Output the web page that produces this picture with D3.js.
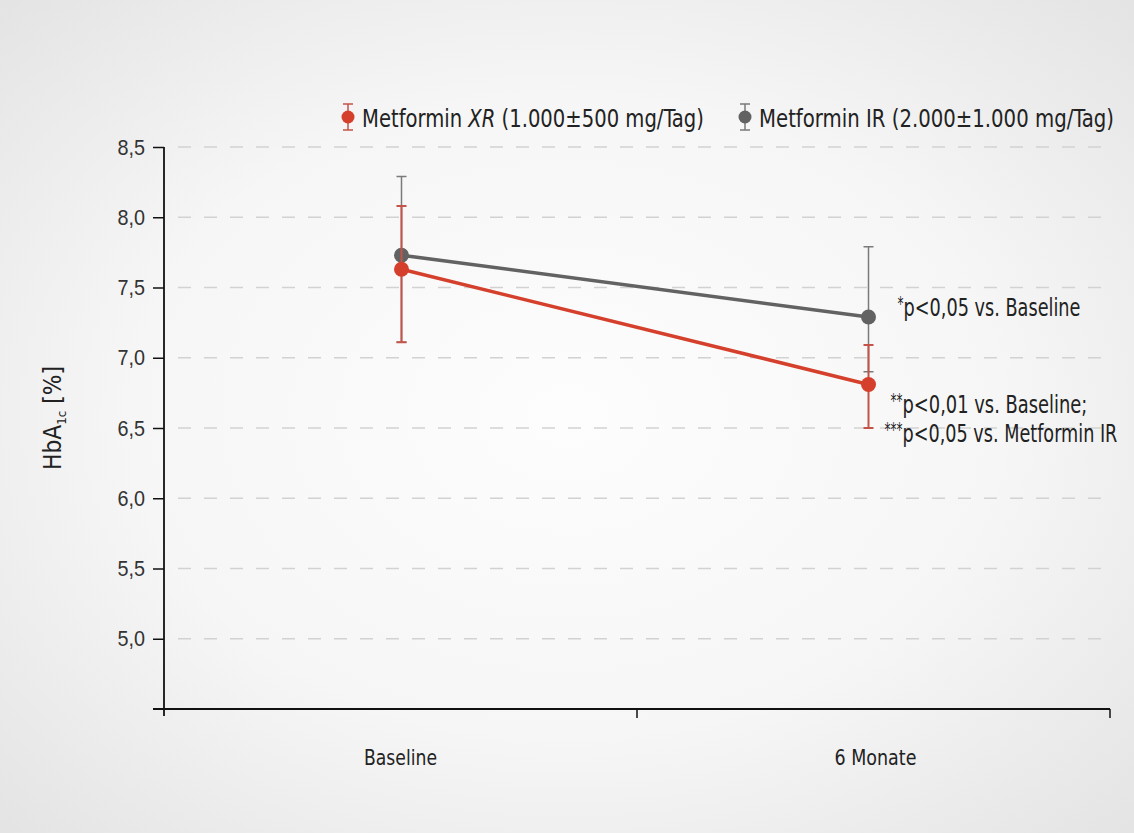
<!DOCTYPE html>
<html>
<head>
<meta charset="utf-8">
<script src="https://cdn.jsdelivr.net/npm/d3@7"></script>
<style>
  body { margin: 0; background: #fff; }
  svg { display: block; }
</style>
</head>
<body>
<div id="chart"></div>
<script>
var categories = ["Baseline", "6 Monate"];

// Metformin XR (1.000±500 mg/Tag)
var xrMean = [7.63, 6.81];
var xrLow  = [7.11, 6.50];
var xrHigh = [8.08, 7.09];

// Metformin IR (2.000±1.000 mg/Tag)
var irMean = [7.73, 7.29];
var irLow  = [7.11, 6.90];
var irHigh = [8.29, 7.79];

var yTicks = [5.0, 5.5, 6.0, 6.5, 7.0, 7.5, 8.0, 8.5];

var width = 1134, height = 833;
var condensed = "'Liberation Sans Narrow', 'DejaVu Sans Condensed', 'Roboto Condensed', sans-serif";
var regular = "'Liberation Sans', Arial, sans-serif";
var red = "#d5402c", redBar = "#c4544a";
var gray = "#626262", grayBar = "#7a7a7a";

var svg = d3.select("#chart").append("svg")
    .attr("width", width)
    .attr("height", height);

// squeeze a text group horizontally so it spans w pixels (the narrow font of the original is not installed)
function fitWidth(g, x0, y0, w, rotate) {
    var bw = g.node().getBBox().width;
    var k = w / bw;
    g.attr("transform", "translate(" + x0 + "," + y0 + ")" + (rotate ? " rotate(-90)" : "") + " scale(" + k + ",1)");
}

// background
var defs = svg.append("defs");
var grad = defs.append("radialGradient")
    .attr("id", "bg")
    .attr("cx", "50%").attr("cy", "50%").attr("r", "70%");
grad.append("stop").attr("offset", "0%").attr("stop-color", "#fdfdfd");
grad.append("stop").attr("offset", "55%").attr("stop-color", "#f6f6f6");
grad.append("stop").attr("offset", "100%").attr("stop-color", "#e4e4e4");
svg.append("rect")
    .attr("width", width).attr("height", height)
    .attr("fill", "url(#bg)");

//
// Scales
//
var x = d3.scaleBand().domain(categories).range([164, 1110]).padding(0);
var xp = d3.scalePoint().domain(categories).range([168, 1102]).padding(0.5);
var y = d3.scaleLinear().domain([4.5, 8.5]).range([709, 147]);

// gridlines
svg.append("g")
    .selectAll("line")
    .data(yTicks)
    .join("line")
    .attr("x1", 178).attr("x2", 1112)
    .attr("y1", function(d) { return y(d); })
    .attr("y2", function(d) { return y(d); })
    .attr("stroke", "#d2d2d2")
    .attr("stroke-width", 1.5)
    .attr("stroke-dasharray", "13,13");

// y axis
var yAxis = svg.append("g")
    .attr("transform", "translate(164,0)")
    .call(d3.axisLeft(y)
        .tickValues(yTicks)
        .tickSize(11)
        .tickPadding(7)
        .tickFormat(function(d) { return d3.format(".1f")(d).replace(".", ","); }));
yAxis.select(".domain")
    .attr("d", "M0," + y(8.5) + "V716")
    .attr("stroke", "#111").attr("stroke-width", 1.8);
yAxis.selectAll(".tick line").attr("stroke", "#111").attr("stroke-width", 1.5);
yAxis.selectAll(".tick text")
    .attr("fill", "#333")
    .attr("x", -19 / 0.9)
    .attr("transform", "scale(0.9,1)")
    .style("font-family", regular)
    .style("font-size", "22px");

// x axis
var xAxis = svg.append("g")
    .attr("transform", "translate(0," + y(4.5) + ")")
    .call(d3.axisBottom(x).tickSize(0).tickFormat(""));
xAxis.select(".domain")
    .attr("d", "M153,0H1110")
    .attr("stroke", "#111").attr("stroke-width", 1.8);
xAxis.selectAll(".boundary")
    .data(categories)
    .join("line")
    .attr("class", "boundary")
    .attr("x1", function(d) { return x(d) + x.bandwidth(); })
    .attr("x2", function(d) { return x(d) + x.bandwidth(); })
    .attr("y1", 0).attr("y2", 9)
    .attr("stroke", "#111").attr("stroke-width", 1.5);

var catWidths = [73, 82];
categories.forEach(function(c, i) {
    var g = svg.append("g");
    g.append("text")
        .attr("text-anchor", "middle")
        .attr("fill", "#222")
        .style("font-family", condensed)
        .style("font-size", "21px")
        .text(c);
    fitWidth(g, x(c) + x.bandwidth() / 2 + (i ? 2 : 0), 765, catWidths[i]);
});

// y label
var ylabG = svg.append("g");
var ylab = ylabG.append("text")
    .attr("text-anchor", "middle")
    .attr("fill", "#222")
    .style("font-family", condensed)
    .style("font-size", "24px");
ylab.append("tspan").text("HbA");
ylab.append("tspan").attr("dy", 5).style("font-size", "13px").text("1c");
ylab.append("tspan").attr("dy", -5).text(" [%]");
fitWidth(ylabG, 61, 418, 104, true);

//
// Series
//
function series(mean, low, high, color, barColor, barWidth) {
    var pts = categories.map(function(c, i) {
        return {cat: c, m: mean[i], lo: low[i], hi: high[i]};
    });
    var g = svg.append("g");
    g.selectAll(".err")
        .data(pts)
        .join("path")
        .attr("class", "err")
        .attr("d", function(d) {
            var cx = xp(d.cat);
            return "M" + cx + "," + y(d.hi) + "V" + y(d.lo) +
                "M" + (cx - 5) + "," + y(d.hi) + "H" + (cx + 5) +
                "M" + (cx - 5) + "," + y(d.lo) + "H" + (cx + 5);
        })
        .attr("fill", "none")
        .attr("stroke", barColor)
        .attr("stroke-width", barWidth);
    return {g: g, pts: pts, color: color};
}

var sIR = series(irMean, irLow, irHigh, gray, grayBar, 1.5);
var sXR = series(xrMean, xrLow, xrHigh, red, redBar, 2);

var line = d3.line()
    .x(function(d) { return xp(d.cat); })
    .y(function(d) { return y(d.m); });

[sIR, sXR].forEach(function(s) {
    s.g.append("path")
        .datum(s.pts)
        .attr("d", line)
        .attr("fill", "none")
        .attr("stroke", s.color)
        .attr("stroke-width", 3.5);
    s.g.selectAll(".dot")
        .data(s.pts)
        .join("circle")
        .attr("class", "dot")
        .attr("cx", function(d) { return xp(d.cat); })
        .attr("cy", function(d) { return y(d.m); })
        .attr("r", 7.5)
        .attr("fill", s.color);
});

//
// Annotations
//
var px = xp("6 Monate");
function note(stars, txt, dx, yy, w, fs) {
    var g = svg.append("g");
    g.append("text")
        .attr("fill", "#222")
        .style("font-family", condensed)
        .style("font-size", fs + "px")
        .text(txt);
    fitWidth(g, px + dx, yy, w);
    var s = svg.append("g");
    s.append("text")
        .attr("text-anchor", "end")
        .attr("fill", "#222")
        .style("font-family", condensed)
        .style("font-size", "20px")
        .text(stars);
    fitWidth(s, px + dx, yy - 6, stars.length * 6);
}
note("*", "p<0,05 vs. Baseline", 35, 316, 177, 25);
note("**", "p<0,01 vs. Baseline;", 34, 413, 185, 24);
note("***", "p<0,05 vs. Metformin IR", 34, 442, 215, 24);

//
// Legend
//
function legendItem(lx, color, barColor, parts, w) {
    var g = svg.append("g").attr("transform", "translate(" + lx + ",117)");
    g.append("path")
        .attr("d", "M0,-13V13M-5,-13H5M-5,13H5")
        .attr("stroke", barColor).attr("stroke-width", 1.5);
    g.append("circle").attr("r", 6.5).attr("fill", color);
    var tg = svg.append("g");
    var t = tg.append("text")
        .attr("fill", "#222")
        .style("font-family", condensed)
        .style("font-size", "25px");
    parts.forEach(function(p) {
        t.append("tspan")
            .style("font-style", p.italic ? "italic" : "normal")
            .text(p.text);
    });
    fitWidth(tg, lx + 14, 127, w);
}
legendItem(348, red, redBar, [
    {text: "Metformin "}, {text: "XR", italic: true}, {text: " (1.000±500 mg/Tag)"}
], 342);
legendItem(745, gray, grayBar, [
    {text: "Metformin IR (2.000±1.000 mg/Tag)"}
], 355);
</script>
</body>
</html>
